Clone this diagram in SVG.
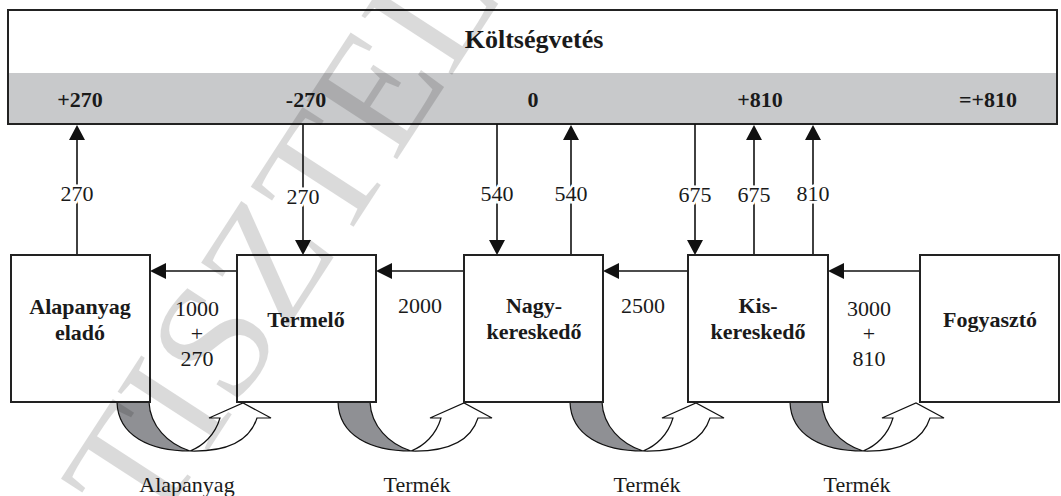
<svg xmlns="http://www.w3.org/2000/svg" width="1061" height="496" viewBox="0 0 1061 496" font-family="Liberation Serif, serif">
<style>
text{font-family:'Liberation Serif',serif}
.b{font-weight:bold;font-size:22px;text-anchor:middle;fill:#1a1a1a}
.t{font-size:22px;text-anchor:middle;fill:#1a1a1a}
.lb{paint-order:stroke;stroke:#fff;stroke-width:5px}
.box{fill:#fff;stroke:#222;stroke-width:2}
.ln{stroke:#111;stroke-width:1.6;fill:none}
.ah{fill:#111}
.gr{fill:#8f9094;stroke:#111;stroke-width:1.2}
.wh{fill:#fff;stroke:#111;stroke-width:1.2}
</style>
<rect width="1061" height="496" fill="#fff"/>
<g id="budget">
<rect x="8" y="10" width="1049" height="114" fill="#fff"/>
<rect x="8" y="73" width="1049" height="51" fill="#c8c9cb"/>
<rect x="8" y="10" width="1049" height="114" fill="none" stroke="#222" stroke-width="2"/>
<text class="b" x="534" y="48" style="font-size:26px">Költségvetés</text>
<text class="b" x="80" y="107">+270</text>
<text class="b" x="306" y="107">-270</text>
<text class="b" x="533" y="107">0</text>
<text class="b" x="760" y="107">+810</text>
<text class="b" x="988" y="107">=+810</text>
</g>
<g id="flows">
<g id="curve1" transform="translate(0,0)">
<path class="gr" d="M117,402 C118,436 150,451 190,451 C168,444 150,426 149,402 Z"/>
<path class="wh" d="M190,451 C230,452 250,440 257,418 L271,418 L243,403 L209,418 L220,418 C215,435 203,446 190,451 Z"/>
</g>
<g id="curve2" transform="translate(221,0)">
<path class="gr" d="M117,402 C118,436 150,451 190,451 C168,444 150,426 149,402 Z"/>
<path class="wh" d="M190,451 C230,452 250,440 257,418 L271,418 L243,403 L209,418 L220,418 C215,435 203,446 190,451 Z"/>
</g>
<g id="curve3" transform="translate(453,0)">
<path class="gr" d="M117,402 C118,436 150,451 190,451 C168,444 150,426 149,402 Z"/>
<path class="wh" d="M190,451 C230,452 250,440 257,418 L271,418 L243,403 L209,418 L220,418 C215,435 203,446 190,451 Z"/>
</g>
<g id="curve4" transform="translate(673,0)">
<path class="gr" d="M117,402 C118,436 150,451 190,451 C168,444 150,426 149,402 Z"/>
<path class="wh" d="M190,451 C230,452 250,440 257,418 L271,418 L243,403 L209,418 L220,418 C215,435 203,446 190,451 Z"/>
</g>
</g>
<g id="connectors">
<line class="ln" x1="77" y1="255" x2="77" y2="138"/><polygon class="ah" points="77,125 69,140 85,140"/>
<line class="ln" x1="303" y1="124" x2="303" y2="242"/><polygon class="ah" points="303,255 295,240 311,240"/>
<line class="ln" x1="497" y1="124" x2="497" y2="242"/><polygon class="ah" points="497,255 489,240 505,240"/>
<line class="ln" x1="571" y1="255" x2="571" y2="138"/><polygon class="ah" points="571,125 563,140 579,140"/>
<line class="ln" x1="695" y1="124" x2="695" y2="242"/><polygon class="ah" points="695,255 687,240 703,240"/>
<line class="ln" x1="754" y1="255" x2="754" y2="138"/><polygon class="ah" points="754,125 746,140 762,140"/>
<line class="ln" x1="813" y1="255" x2="813" y2="138"/><polygon class="ah" points="813,125 805,140 821,140"/>
<line class="ln" x1="237" y1="271" x2="163" y2="271"/><polygon class="ah" points="150,271 166,263 166,279"/>
<line class="ln" x1="464" y1="271" x2="389" y2="271"/><polygon class="ah" points="376,271 392,263 392,279"/>
<line class="ln" x1="688" y1="271" x2="616" y2="271"/><polygon class="ah" points="603,271 619,263 619,279"/>
<line class="ln" x1="920" y1="271" x2="841" y2="271"/><polygon class="ah" points="828,271 844,263 844,279"/>
<text class="t lb" x="77" y="201">270</text>
<text class="t lb" x="303" y="204">270</text>
<text class="t lb" x="497" y="201">540</text>
<text class="t lb" x="571" y="201">540</text>
<text class="t lb" x="695" y="202">675</text>
<text class="t lb" x="754" y="202">675</text>
<text class="t lb" x="813" y="201">810</text>
<text class="t" x="197" y="316">1000</text>
<text class="t" x="197" y="341">+</text>
<text class="t" x="197" y="366">270</text>
<text class="t" x="420" y="313">2000</text>
<text class="t" x="643" y="313">2500</text>
<text class="t" x="869" y="316">3000</text>
<text class="t" x="869" y="341">+</text>
<text class="t" x="869" y="366">810</text>
</g>
<g id="alapanyag-elado">
<rect class="box" x="11" y="255" width="139" height="147"/>
<text class="b" x="80" y="314">Alapanyag</text>
<text class="b" x="80" y="340">eladó</text>
</g>
<g id="termelo">
<rect class="box" x="237" y="255" width="139" height="147"/>
<text class="b" x="306" y="327">Termelő</text>
</g>
<g id="nagykereskedo">
<rect class="box" x="464" y="255" width="139" height="147"/>
<text class="b" x="534" y="313">Nagy-</text>
<text class="b" x="534" y="339">kereskedő</text>
</g>
<g id="kiskereskedo">
<rect class="box" x="688" y="255" width="140" height="147"/>
<text class="b" x="758" y="313">Kis-</text>
<text class="b" x="758" y="339">kereskedő</text>
</g>
<g id="fogyaszto">
<rect class="box" x="920" y="255" width="139" height="147"/>
<text class="b" x="990" y="327">Fogyasztó</text>
</g>
<g id="goods">
<text class="t" x="187" y="492">Alapanyag</text>
<text class="t" x="417" y="492">Termék</text>
<text class="t" x="647" y="492">Termék</text>
<text class="t" x="857" y="492">Termék</text>
</g>
<text x="0" y="0" transform="translate(150,540) rotate(-57)" style="font-size:165px;fill:#000;opacity:0.14">TISZTEL</text>
</svg>
